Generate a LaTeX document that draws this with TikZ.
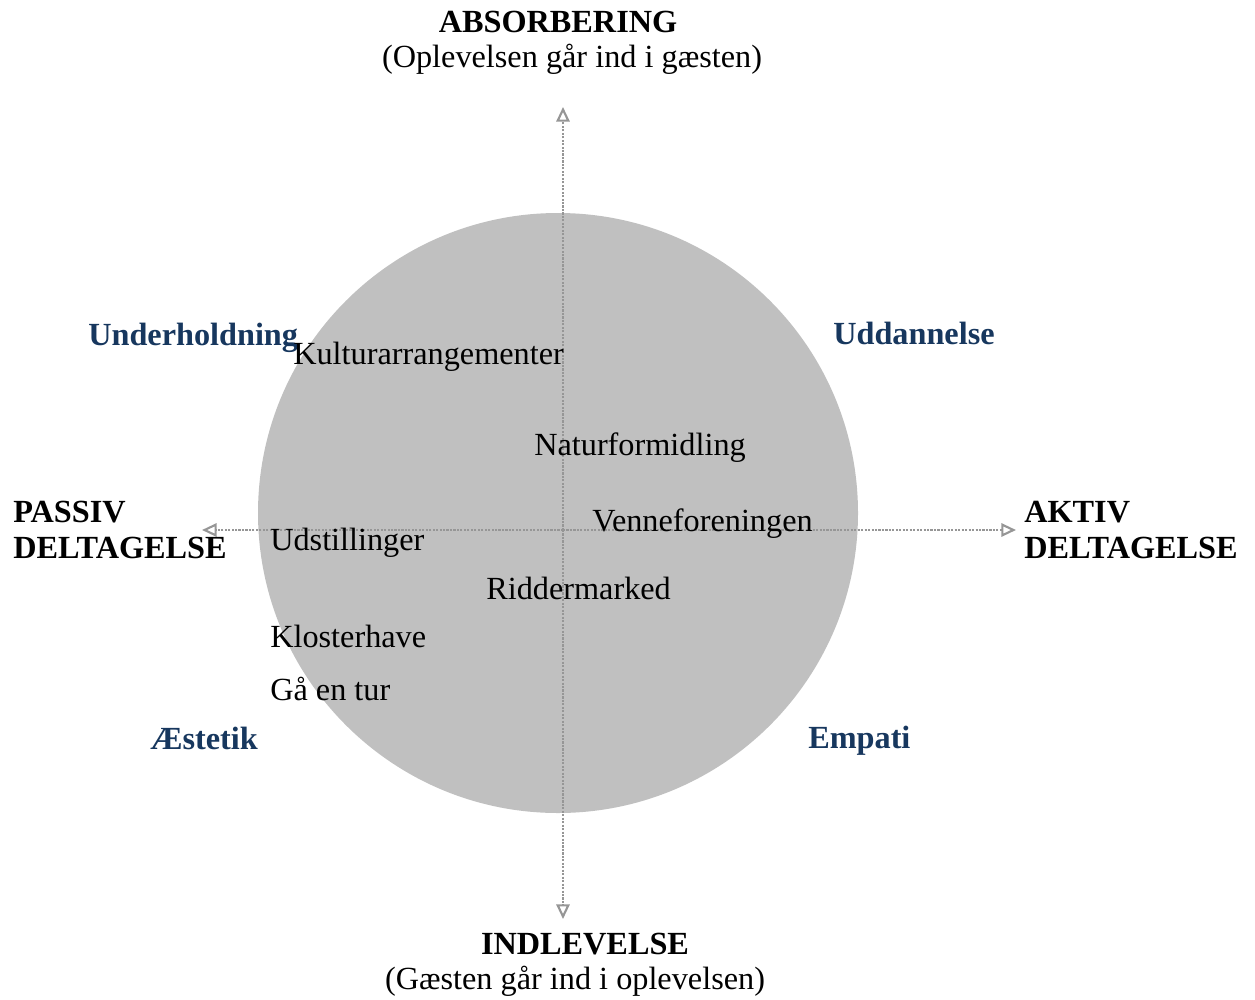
\documentclass[tikz,border=0pt]{standalone}
\usepackage{fontspec}
\setmainfont{Liberation Serif}
\usetikzlibrary{arrows.meta}
\definecolor{circgray}{RGB}{192,192,192}
\definecolor{quadblue}{RGB}{23,55,94}
\definecolor{axisgray}{RGB}{150,150,150}
\tikzset{
  lbl/.style={inner sep=0pt, font=\fontsize{24.2}{29}\selectfont},
  head/.style={lbl, font=\fontsize{24.2}{29}\selectfont\bfseries},
  quad/.style={head, text=quadblue},
  axis/.style={draw=axisgray, line width=1.6pt, densely dotted, -{Triangle[open,length=11pt,width=10pt]}},
}
\begin{document}
\begin{tikzpicture}[x=0.75pt,y=-0.75pt]
\useasboundingbox (0,0) rectangle (1255,999);
\fill[circgray] (558,513) circle (300);
\coordinate (c) at (563,530);
\coordinate (top) at (563,107);
\coordinate (bot) at (563,919);
\coordinate (lft) at (202,530);
\coordinate (rgt) at (1016,530);
\draw[axis] (c) -- (top);
\draw[axis] (c) -- (bot);
\draw[axis] (c) -- (lft);
\draw[axis] (c) -- (rgt);
\node[head, anchor=base] (absorb) at (558,33) {ABSORBERING};
\node[lbl, anchor=base] (absorbsub) at (572,68) {(Oplevelsen går ind i gæsten)};
\node[head, anchor=base] (indlev) at (585,954) {INDLEVELSE};
\node[lbl, anchor=base] (indlevsub) at (575,989) {(Gæsten går ind i oplevelsen)};
\node[head, anchor=base west] (passiv1) at (13,522) {PASSIV};
\node[head, anchor=base west] (passiv2) at (13,558) {DELTAGELSE};
\node[head, anchor=base west] (aktiv1) at (1024,522) {AKTIV};
\node[head, anchor=base west] (aktiv2) at (1024,558) {DELTAGELSE};
\node[quad, anchor=base west] (under) at (88,345) {Underholdning};
\node[quad, anchor=base west] (uddan) at (833,344) {Uddannelse};
\node[quad, anchor=base west] (aest) at (150,749) {Æstetik};
\node[quad, anchor=base west] (empati) at (808,748) {Empati};
\node[lbl, anchor=base west] (kultur) at (293,364) {Kulturarrangementer};
\node[lbl, anchor=base west] (natur) at (534,455) {Naturformidling};
\node[lbl, anchor=base west] (venne) at (592,531) {Venneforeningen};
\node[lbl, anchor=base west] (udst) at (270,550) {Udstillinger};
\node[lbl, anchor=base west] (ridder) at (486,599) {Riddermarked};
\node[lbl, anchor=base west] (kloster) at (270,647) {Klosterhave};
\node[lbl, anchor=base west] (gaa) at (270,700) {Gå en tur};
\end{tikzpicture}
\end{document}
